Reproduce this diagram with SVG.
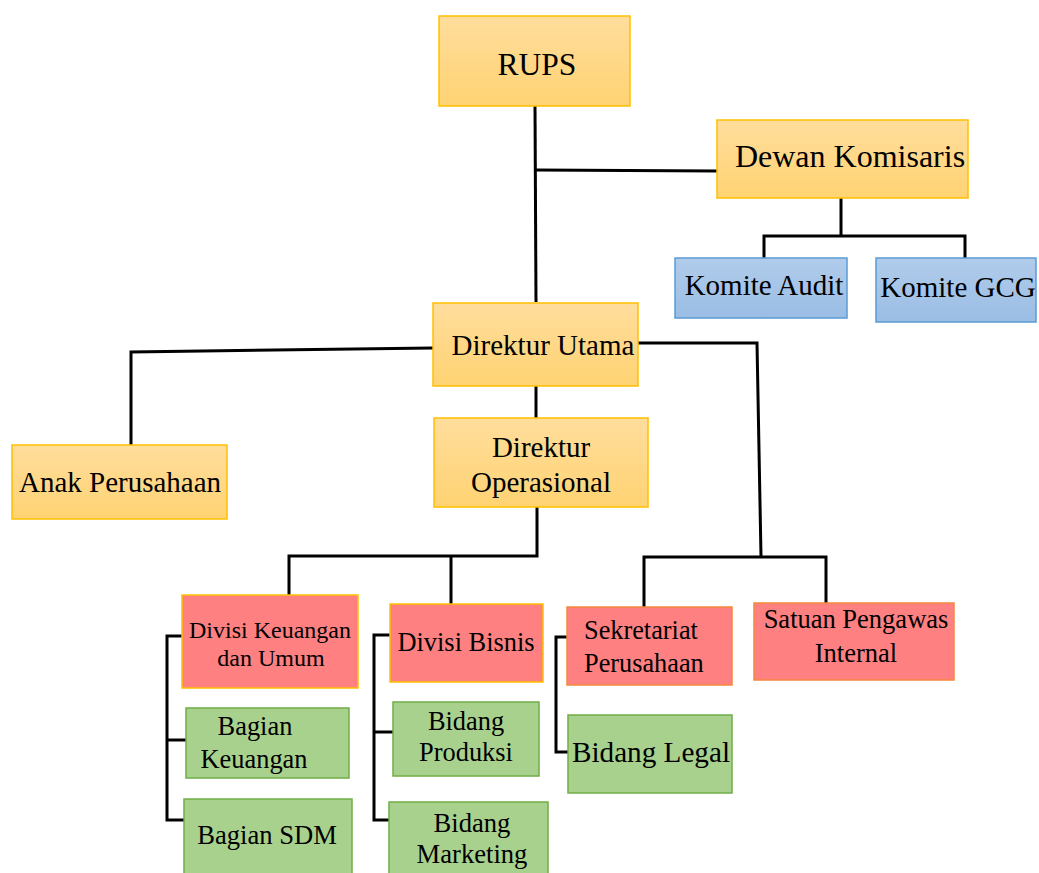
<svg xmlns="http://www.w3.org/2000/svg" width="1039" height="873" viewBox="0 0 1039 873">
<defs>
<linearGradient id="gO" x1="0" y1="0" x2="0" y2="1"><stop offset="0" stop-color="#FFDD9C"/><stop offset="1" stop-color="#FFD373"/></linearGradient>
<linearGradient id="gB" x1="0" y1="0" x2="0" y2="1"><stop offset="0" stop-color="#B1CCEB"/><stop offset="1" stop-color="#9ABDE4"/></linearGradient>
</defs>
<style>
.o{fill:url(#gO);stroke:#FFC000;stroke-width:1.5}
.b{fill:url(#gB);stroke:#5B9BD5;stroke-width:1.5}
.r{fill:#FF8080;stroke:#F4883C;stroke-width:1.5}
.ry{fill:#FF8080;stroke:#FFC000;stroke-width:1.5}
.g{fill:#A9D18E;stroke:#70AD47;stroke-width:1.5}
text{font-family:"Liberation Serif","Times New Roman",serif;fill:#000;text-anchor:middle}
.l{text-anchor:start}
.c{fill:none;stroke:#000;stroke-width:3}
</style>
<g id="connectors">
<polyline class="c" points="535,106 536,302"/>
<polyline class="c" points="536,170 717,171"/>
<polyline class="c" points="841,198 841,236"/>
<polyline class="c" points="764,258 764,236 965,236 965,258"/>
<polyline class="c" points="433,348 131,352 131,445"/>
<polyline class="c" points="638,343 757,343 761,556"/>
<polyline class="c" points="644,608 644,557 826,557 826,603"/>
<polyline class="c" points="536,386 536,418"/>
<polyline class="c" points="537,507 537,556 289,556 289,595"/>
<polyline class="c" points="451,556 451,604"/>
<polyline class="c" points="182,636 167,636 167,820 184,820"/>
<polyline class="c" points="167,740 186,740"/>
<polyline class="c" points="390,635 374,635 374,820 389,820"/>
<polyline class="c" points="374,732 393,732"/>
<polyline class="c" points="567,637 556,637 556,752 568,752"/>
</g>
<g id="rups"><rect class="o" x="439" y="16" width="191" height="90"/><text x="537" y="75" font-size="31.5">RUPS</text></g>
<g id="dewan"><rect class="o" x="717" y="120" width="251" height="78"/><text x="850" y="167" font-size="32">Dewan Komisaris</text></g>
<g id="komite-audit"><rect class="b" x="675" y="258" width="172" height="60"/><text x="764" y="295" font-size="29">Komite Audit</text></g>
<g id="komite-gcg"><rect class="b" x="876" y="258" width="160" height="64"/><text x="958" y="297" font-size="29">Komite GCG</text></g>
<g id="dirut"><rect class="o" x="433" y="303" width="205" height="83"/><text x="543" y="355" font-size="29">Direktur Utama</text></g>
<g id="anak"><rect class="o" x="12" y="445" width="215" height="74"/><text x="120" y="492" font-size="29">Anak Perusahaan</text></g>
<g id="dirop"><rect class="o" x="434" y="418" width="214" height="89"/><text x="541" y="457" font-size="29">Direktur</text><text x="541" y="492" font-size="29">Operasional</text></g>
<g id="div-keu"><rect class="ry" x="182" y="595" width="176" height="93"/><text x="270" y="638" font-size="24">Divisi Keuangan</text><text x="271" y="666" font-size="24">dan Umum</text></g>
<g id="div-bisnis"><rect class="ry" x="390" y="604" width="153" height="78"/><text x="466" y="651" font-size="26.4">Divisi Bisnis</text></g>
<g id="bag-keu"><rect class="g" x="186" y="708" width="163" height="70"/><text x="255" y="735" font-size="26.4">Bagian</text><text x="254" y="768" font-size="26.4">Keuangan</text></g>
<g id="bag-sdm"><rect class="g" x="184" y="799" width="168" height="80"/><text x="267" y="844" font-size="26.6">Bagian SDM</text></g>
<g id="bid-produksi"><rect class="g" x="393" y="702" width="146" height="74"/><text x="466" y="730" font-size="26.4">Bidang</text><text x="466" y="761" font-size="26.4">Produksi</text></g>
<g id="bid-marketing"><rect class="g" x="389" y="802" width="159" height="77"/><text x="472" y="832" font-size="26.6">Bidang</text><text x="472" y="863" font-size="26.6">Marketing</text></g>
<g id="sekretariat"><rect class="r" x="567" y="607" width="165" height="78"/><text class="l" x="584" y="639" font-size="26.3">Sekretariat</text><text class="l" x="584" y="672" font-size="26.3">Perusahaan</text></g>
<g id="bid-legal"><rect class="g" x="568" y="715" width="164" height="78"/><text x="651" y="762" font-size="29.2">Bidang Legal</text></g>
<g id="spi"><rect class="r" x="754" y="603" width="200" height="77"/><text x="856" y="628" font-size="26.5">Satuan Pengawas</text><text x="856" y="662" font-size="26.5">Internal</text></g>
</svg>
